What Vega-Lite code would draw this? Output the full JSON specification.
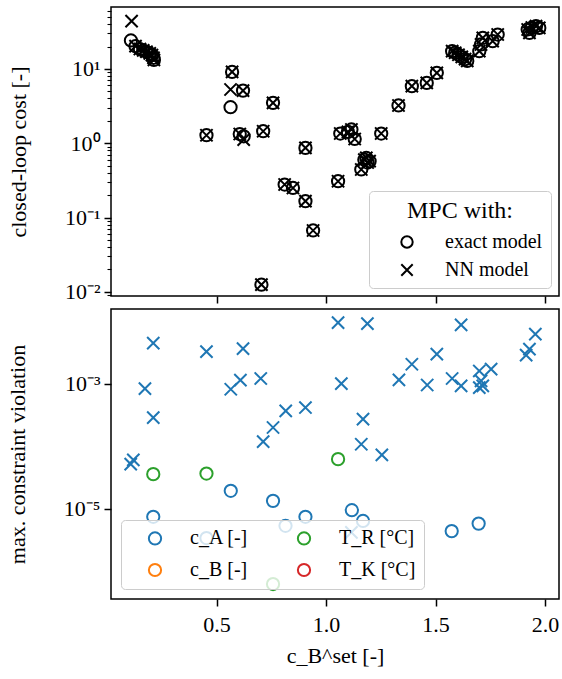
{
  "$schema": "https://vega.github.io/schema/vega-lite/v6.json",
  "padding": {"left": 5, "top": 6, "right": 2, "bottom": 5},
  "background": "white",
  "config": {
    "font": "Liberation Serif",
    "view": {"stroke": "black", "strokeWidth": 1.5},
    "axis": {"grid": false, "domain": false, "tickColor": "black", "tickWidth": 1.5, "tickSize": 7, "labelFont": "Liberation Serif", "labelFontSize": 22, "labelColor": "black", "titleFont": "Liberation Serif", "titleFontSize": 22, "titleFontWeight": "normal", "titleColor": "black", "labelPadding": 4, "labelFlush": false}
  },
  "datasets": {
    "cost": [
      {"x":0.109,"cost":24.1,"model":"exact model"},{"x":0.112,"cost":43.8,"model":"NN model"},
      {"x":0.564,"cost":3.05,"model":"exact model"},{"x":0.564,"cost":5.28,"model":"NN model"},
      {"x":0.624,"cost":1.24,"model":"exact model"},{"x":0.624,"cost":1.12,"model":"NN model"},
      {"x":0.13,"cost":20.2,"model":"exact model"},{"x":0.13,"cost":20.2,"model":"NN model"},
      {"x":0.15,"cost":18.5,"model":"exact model"},{"x":0.15,"cost":18.5,"model":"NN model"},
      {"x":0.165,"cost":17.7,"model":"exact model"},{"x":0.165,"cost":17.7,"model":"NN model"},
      {"x":0.18,"cost":17,"model":"exact model"},{"x":0.18,"cost":17,"model":"NN model"},
      {"x":0.195,"cost":16.2,"model":"exact model"},{"x":0.195,"cost":16.2,"model":"NN model"},
      {"x":0.205,"cost":15.3,"model":"exact model"},{"x":0.205,"cost":15.3,"model":"NN model"},
      {"x":0.212,"cost":14.1,"model":"exact model"},{"x":0.212,"cost":14.1,"model":"NN model"},
      {"x":0.214,"cost":13.2,"model":"exact model"},{"x":0.214,"cost":13.2,"model":"NN model"},
      {"x":0.454,"cost":1.28,"model":"exact model"},{"x":0.454,"cost":1.28,"model":"NN model"},
      {"x":0.571,"cost":9.1,"model":"exact model"},{"x":0.571,"cost":9.1,"model":"NN model"},
      {"x":0.621,"cost":5.1,"model":"exact model"},{"x":0.621,"cost":5.1,"model":"NN model"},
      {"x":0.606,"cost":1.33,"model":"exact model"},{"x":0.606,"cost":1.33,"model":"NN model"},
      {"x":0.713,"cost":1.45,"model":"exact model"},{"x":0.713,"cost":1.45,"model":"NN model"},
      {"x":0.758,"cost":3.49,"model":"exact model"},{"x":0.758,"cost":3.49,"model":"NN model"},
      {"x":0.906,"cost":0.865,"model":"exact model"},{"x":0.906,"cost":0.865,"model":"NN model"},
      {"x":0.811,"cost":0.278,"model":"exact model"},{"x":0.811,"cost":0.278,"model":"NN model"},
      {"x":0.849,"cost":0.25,"model":"exact model"},{"x":0.849,"cost":0.25,"model":"NN model"},
      {"x":0.906,"cost":0.166,"model":"exact model"},{"x":0.906,"cost":0.166,"model":"NN model"},
      {"x":0.941,"cost":0.067,"model":"exact model"},{"x":0.941,"cost":0.067,"model":"NN model"},
      {"x":0.705,"cost":0.0125,"model":"exact model"},{"x":0.705,"cost":0.0125,"model":"NN model"},
      {"x":1.055,"cost":0.308,"model":"exact model"},{"x":1.055,"cost":0.308,"model":"NN model"},
      {"x":1.065,"cost":1.35,"model":"exact model"},{"x":1.065,"cost":1.35,"model":"NN model"},
      {"x":1.1,"cost":1.42,"model":"exact model"},{"x":1.1,"cost":1.42,"model":"NN model"},
      {"x":1.116,"cost":1.53,"model":"exact model"},{"x":1.116,"cost":1.53,"model":"NN model"},
      {"x":1.131,"cost":1.14,"model":"exact model"},{"x":1.131,"cost":1.14,"model":"NN model"},
      {"x":1.252,"cost":1.35,"model":"exact model"},{"x":1.252,"cost":1.35,"model":"NN model"},
      {"x":1.161,"cost":0.443,"model":"exact model"},{"x":1.161,"cost":0.443,"model":"NN model"},
      {"x":1.175,"cost":0.6,"model":"exact model"},{"x":1.175,"cost":0.6,"model":"NN model"},
      {"x":1.184,"cost":0.634,"model":"exact model"},{"x":1.184,"cost":0.634,"model":"NN model"},
      {"x":1.199,"cost":0.573,"model":"exact model"},{"x":1.199,"cost":0.573,"model":"NN model"},
      {"x":1.19,"cost":0.55,"model":"exact model"},{"x":1.19,"cost":0.55,"model":"NN model"},
      {"x":1.331,"cost":3.22,"model":"exact model"},{"x":1.331,"cost":3.22,"model":"NN model"},
      {"x":1.392,"cost":5.85,"model":"exact model"},{"x":1.392,"cost":5.85,"model":"NN model"},
      {"x":1.46,"cost":6.48,"model":"exact model"},{"x":1.46,"cost":6.48,"model":"NN model"},
      {"x":1.506,"cost":8.84,"model":"exact model"},{"x":1.506,"cost":8.84,"model":"NN model"},
      {"x":1.576,"cost":17.3,"model":"exact model"},{"x":1.576,"cost":17.3,"model":"NN model"},
      {"x":1.59,"cost":16.5,"model":"exact model"},{"x":1.59,"cost":16.5,"model":"NN model"},
      {"x":1.605,"cost":15.5,"model":"exact model"},{"x":1.605,"cost":15.5,"model":"NN model"},
      {"x":1.62,"cost":14.5,"model":"exact model"},{"x":1.62,"cost":14.5,"model":"NN model"},
      {"x":1.635,"cost":13.5,"model":"exact model"},{"x":1.635,"cost":13.5,"model":"NN model"},
      {"x":1.645,"cost":12.8,"model":"exact model"},{"x":1.645,"cost":12.8,"model":"NN model"},
      {"x":1.7,"cost":17.3,"model":"exact model"},{"x":1.7,"cost":17.3,"model":"NN model"},
      {"x":1.708,"cost":21.3,"model":"exact model"},{"x":1.708,"cost":21.3,"model":"NN model"},
      {"x":1.716,"cost":26.1,"model":"exact model"},{"x":1.716,"cost":26.1,"model":"NN model"},
      {"x":1.761,"cost":23.6,"model":"exact model"},{"x":1.761,"cost":23.6,"model":"NN model"},
      {"x":1.784,"cost":29,"model":"exact model"},{"x":1.784,"cost":29,"model":"NN model"},
      {"x":1.921,"cost":33.9,"model":"exact model"},{"x":1.921,"cost":33.9,"model":"NN model"},
      {"x":1.929,"cost":30.5,"model":"exact model"},{"x":1.929,"cost":30.5,"model":"NN model"},
      {"x":1.94,"cost":36,"model":"exact model"},{"x":1.94,"cost":36,"model":"NN model"},
      {"x":1.959,"cost":37.6,"model":"exact model"},{"x":1.959,"cost":37.6,"model":"NN model"},
      {"x":1.974,"cost":35.6,"model":"exact model"},{"x":1.974,"cost":35.6,"model":"NN model"}
    ],
    "viol": [
      {"x":0.211,"v":0.00448,"variable":"c_A [-]","model":"NN model"},
      {"x":0.173,"v":0.00084,"variable":"c_A [-]","model":"NN model"},
      {"x":0.211,"v":0.000289,"variable":"c_A [-]","model":"NN model"},
      {"x":0.12,"v":0.0000608,"variable":"c_A [-]","model":"NN model"},
      {"x":0.108,"v":0.0000519,"variable":"c_A [-]","model":"NN model"},
      {"x":0.454,"v":0.00329,"variable":"c_A [-]","model":"NN model"},
      {"x":0.621,"v":0.00367,"variable":"c_A [-]","model":"NN model"},
      {"x":0.565,"v":0.00082,"variable":"c_A [-]","model":"NN model"},
      {"x":0.609,"v":0.00115,"variable":"c_A [-]","model":"NN model"},
      {"x":0.702,"v":0.00122,"variable":"c_A [-]","model":"NN model"},
      {"x":0.713,"v":0.000119,"variable":"c_A [-]","model":"NN model"},
      {"x":0.758,"v":0.0002,"variable":"c_A [-]","model":"NN model"},
      {"x":0.816,"v":0.00037,"variable":"c_A [-]","model":"NN model"},
      {"x":0.906,"v":0.000418,"variable":"c_A [-]","model":"NN model"},
      {"x":1.055,"v":0.00957,"variable":"c_A [-]","model":"NN model"},
      {"x":1.189,"v":0.0092,"variable":"c_A [-]","model":"NN model"},
      {"x":1.617,"v":0.0088,"variable":"c_A [-]","model":"NN model"},
      {"x":1.956,"v":0.00624,"variable":"c_A [-]","model":"NN model"},
      {"x":1.929,"v":0.00359,"variable":"c_A [-]","model":"NN model"},
      {"x":1.914,"v":0.00288,"variable":"c_A [-]","model":"NN model"},
      {"x":1.506,"v":0.00299,"variable":"c_A [-]","model":"NN model"},
      {"x":1.392,"v":0.00206,"variable":"c_A [-]","model":"NN model"},
      {"x":1.333,"v":0.00116,"variable":"c_A [-]","model":"NN model"},
      {"x":1.07,"v":0.00101,"variable":"c_A [-]","model":"NN model"},
      {"x":1.462,"v":0.00096,"variable":"c_A [-]","model":"NN model"},
      {"x":1.576,"v":0.00122,"variable":"c_A [-]","model":"NN model"},
      {"x":1.617,"v":0.00093,"variable":"c_A [-]","model":"NN model"},
      {"x":1.7,"v":0.00161,"variable":"c_A [-]","model":"NN model"},
      {"x":1.754,"v":0.00172,"variable":"c_A [-]","model":"NN model"},
      {"x":1.708,"v":0.00112,"variable":"c_A [-]","model":"NN model"},
      {"x":1.7,"v":0.00087,"variable":"c_A [-]","model":"NN model"},
      {"x":1.716,"v":0.00093,"variable":"c_A [-]","model":"NN model"},
      {"x":1.169,"v":0.000272,"variable":"c_A [-]","model":"NN model"},
      {"x":1.161,"v":0.000108,"variable":"c_A [-]","model":"NN model"},
      {"x":1.255,"v":0.000073,"variable":"c_A [-]","model":"NN model"},
      {"x":1.116,"v":0.0000042,"variable":"c_A [-]","model":"NN model"},
      {"x":0.565,"v":0.0000194,"variable":"c_A [-]","model":"exact model"},
      {"x":0.758,"v":0.0000134,"variable":"c_A [-]","model":"exact model"},
      {"x":0.211,"v":0.00000745,"variable":"c_A [-]","model":"exact model"},
      {"x":0.906,"v":0.00000745,"variable":"c_A [-]","model":"exact model"},
      {"x":0.815,"v":0.00000535,"variable":"c_A [-]","model":"exact model"},
      {"x":0.454,"v":0.0000034,"variable":"c_A [-]","model":"exact model"},
      {"x":1.118,"v":0.0000095,"variable":"c_A [-]","model":"exact model"},
      {"x":1.169,"v":0.0000064,"variable":"c_A [-]","model":"exact model"},
      {"x":1.574,"v":0.0000044,"variable":"c_A [-]","model":"exact model"},
      {"x":1.697,"v":0.0000058,"variable":"c_A [-]","model":"exact model"},
      {"x":0.211,"v":0.0000359,"variable":"T_R [°C]","model":"exact model"},
      {"x":0.454,"v":0.0000367,"variable":"T_R [°C]","model":"exact model"},
      {"x":1.055,"v":0.0000624,"variable":"T_R [°C]","model":"exact model"},
      {"x":0.758,"v":0.000000624,"variable":"T_R [°C]","model":"exact model"}
    ]
  },
  "vconcat": [
    {
      "width": 448,
      "height": 289,
      "data": {"name": "cost"},
      "layer": [
        {
          "mark": {"type": "point", "filled": false, "strokeWidth": 2, "size": 150, "color": "black", "opacity": 1},
          "encoding": {
            "x": {"field": "x", "type": "quantitative", "scale": {"domain": [0.018, 2.064], "nice": false, "zero": false}, "axis": {"values": [0.5, 1, 1.5, 2], "labels": false, "title": null}},
            "y": {"field": "cost", "type": "quantitative", "scale": {"type": "log", "domain": [0.0088, 68], "nice": false}, "axis": {"values": [0.01, 0.1, 1, 10], "labelExpr": "datum.value > 5 ? '10¹' : datum.value > 0.5 ? '10⁰' : datum.value > 0.05 ? '10⁻¹' : '10⁻²'", "title": "closed-loop cost [-]", "titlePadding": 34}},
            "shape": {"field": "model", "type": "nominal", "scale": {"domain": ["exact model", "NN model"], "range": ["circle", "M-1,-1L1,1M-1,1L1,-1"]},
              "legend": {"title": "MPC with:", "orient": "bottom-right", "offset": 8, "titleFont": "Liberation Serif", "titleFontSize": 24, "titleFontWeight": "normal", "titleColor": "black", "titleAnchor": "middle", "titlePadding": 9, "labelFont": "Liberation Serif", "labelFontSize": 20, "labelColor": "black", "labelOffset": 28, "symbolSize": 130, "symbolStrokeWidth": 2, "symbolStrokeColor": "black", "symbolOffset": 20, "rowPadding": 8, "padding": 8, "strokeColor": "#cccccc", "fillColor": "rgba(255,255,255,0.8)", "cornerRadius": 4, "zindex": 1}}
          }
        },
        {
          "mark": {"type": "point", "opacity": 0},
          "encoding": {
            "y": {"field": "cost", "type": "quantitative", "scale": {"type": "log", "domain": [0.0088, 68], "nice": false}, "axis": {"orient": "left", "values": [0.009, 0.02, 0.03, 0.04, 0.05, 0.06, 0.07, 0.08, 0.09, 0.2, 0.3, 0.4, 0.5, 0.6, 0.7, 0.8, 0.9, 2, 3, 4, 5, 6, 7, 8, 9, 20, 30, 40, 50, 60], "labels": false, "title": null, "tickSize": 4, "tickWidth": 1.1}}
          }
        }
      ],
      "resolve": {"axis": {"y": "independent"}}
    },
    {
      "width": 448,
      "height": 290,
      "data": {"name": "viol"},
      "mark": {"type": "point", "filled": false, "strokeWidth": 2, "size": 150, "opacity": 1},
      "encoding": {
        "x": {"field": "x", "type": "quantitative", "scale": {"domain": [0.018, 2.064], "nice": false, "zero": false}, "axis": {"values": [0.5, 1, 1.5, 2], "format": ".1f", "labelPadding": 8, "title": "c_B^set [-]", "titlePadding": 10}},
        "y": {"field": "v", "type": "quantitative", "scale": {"type": "log", "domain": [3.6e-7, 0.0158], "nice": false}, "axis": {"values": [0.001, 0.00001], "labelExpr": "datum.value > 0.0001 ? '10⁻³' : '10⁻⁵'", "title": "max. constraint violation", "titlePadding": 34}},
        "color": {"field": "variable", "type": "nominal", "scale": {"domain": ["c_A [-]", "c_B [-]", "T_R [°C]", "T_K [°C]"], "range": ["#1f77b4", "#ff7f0e", "#2ca02c", "#d62728"]},
          "legend": {"title": null, "orient": "bottom-left", "offset": 10, "columns": 2, "columnPadding": 29, "symbolType": "circle", "labelFont": "Liberation Serif", "labelFontSize": 20, "labelColor": "black", "labelOffset": 25, "symbolSize": 150, "symbolStrokeWidth": 2, "symbolOffset": 16, "rowPadding": 10, "padding": 8, "strokeColor": "#cccccc", "fillColor": "rgba(255,255,255,0.8)", "cornerRadius": 4, "zindex": 1}},
        "shape": {"field": "model", "type": "nominal", "scale": {"domain": ["exact model", "NN model"], "range": ["circle", "M-1,-1L1,1M-1,1L1,-1"]}, "legend": null}
      }
    }
  ],
  "spacing": 13,
  "bounds": "flush",
  "resolve": {"scale": {"x": "independent", "y": "independent", "color": "independent", "shape": "independent"}, "legend": {"color": "independent", "shape": "independent"}}
}
